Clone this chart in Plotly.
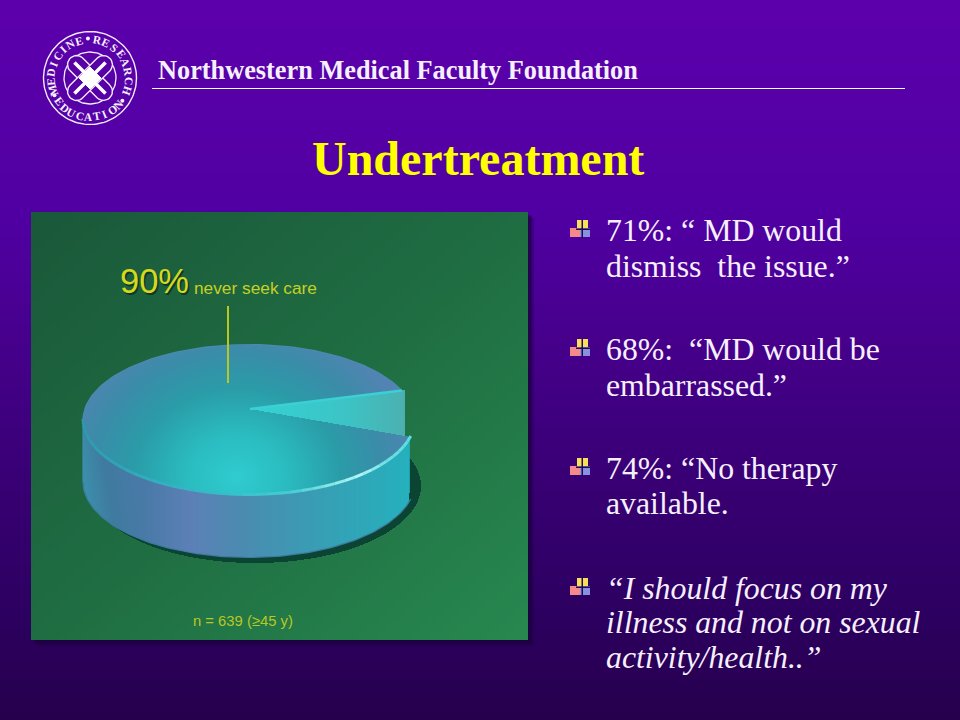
import numpy as np
import plotly.graph_objects as go

# ---------- chart data ----------
slice_labels = ["never seek care", "seek care"]
slice_shares = [90, 10]
sample_note = "n = 639 (≥45 y)"
header_text = "Northwestern Medical Faculty Foundation"
title_text = "Undertreatment"
bullet_groups = [
    ["71%: “ MD would", "dismiss  the issue.”"],
    ["68%:  “MD would be", "embarrassed.”"],
    ["74%: “No therapy", "available."],
    ["“I should focus on my", "illness and not on sexual", "activity/health..”"],
]
bullet_line_y = [[230, 266], [349, 385], [468, 503], [588, 622, 657]]
bullet_italic = [False, False, False, True]
logo_top_a = "MEDICINE"
logo_top_b = "RESEARCH"
logo_bottom = "EDUCATION"

# ---------- page helpers ----------
fig = go.Figure()
hm = dict(showscale=False, hoverinfo="skip")


def hex_scale(stops, zmax=1.0):
    return [[s / zmax, c] for s, c in stops]


# slide background
ys = np.arange(0.5, 720.5, 4)
bg_stops = [(0, "#5c00ac"), (0.3, "#5000a2"), (0.5, "#440088"), (0.7, "#360070"),
            (0.85, "#2c0060"), (1, "#26004c")]
fig.add_heatmap(z=(ys / 720).reshape(-1, 1), x0=480, dx=960, y0=2, dy=4, zmin=0, zmax=1,
                colorscale=hex_scale(bg_stops), **hm)

# panel drop shadow
for off, op in [(6, 0.25), (4, 0.35), (3, 0.4)]:
    fig.add_heatmap(z=[[1]], x0=(31 + 528) / 2 + off, dx=497, y0=(212 + 640) / 2 + off, dy=428,
                    zmin=0, zmax=1, colorscale=[[0, "#180038"], [1, "#180038"]], opacity=op, **hm)

# panel
PX0, PX1, PY0, PY1 = 31, 528, 212, 640
nx, ny = 124, 107
dxp, dyp = (PX1 - PX0) / nx, (PY1 - PY0) / ny
pxc = PX0 + dxp * (np.arange(nx) + 0.5)
pyc = PY0 + dyp * (np.arange(ny) + 0.5)
PXG, PYG = np.meshgrid(pxc, pyc)
fig.add_heatmap(z=((PXG - PX0) / (PX1 - PX0) * 0.5 + (PYG - PY0) / (PY1 - PY0) * 0.5),
                x0=pxc[0], dx=dxp, y0=pyc[0], dy=dyp, zmin=0, zmax=1,
                colorscale=[[0, "#1a583a"], [0.5, "#1f6d42"], [1, "#27884f"]], **hm)

# ---------- pie geometry, derived from the shares ----------
cx, cy, rx, ry, depth = 249.0, 420.0, 166.0, 75.5, 62.0
apex = (250.0, 409.0)
t0 = np.deg2rad(-23.0)
t1 = t0 + 2 * np.pi * slice_shares[1] / sum(slice_shares)
cut_x = 405.0


def rim(t):
    return cx + rx * np.cos(t), cy + ry * np.sin(t)


p0 = rim(t0)
p1 = rim(t1)
side_end = p1[0] - 1.5

gx = np.arange(78, 430)
gy = np.arange(338, 572)
X, Y = np.meshgrid(gx + 0.5, gy + 0.5)
U, V = (X - cx) / rx, (Y - cy) / ry

# ground shadow
shadow_in = ((X - (cx + 6)) / 166) ** 2 + ((Y - 486) / 77) ** 2 <= 1
fig.add_heatmap(z=np.where(shadow_in, 1.0, np.nan), x0=gx[0] + 0.5, dx=1, y0=gy[0] + 0.5, dy=1,
                zmin=0, zmax=1, colorscale=[[0, "#0c4433"], [1, "#0c4433"]], **hm)

# side wall
yt = cy + ry * np.sqrt(np.clip(1 - U ** 2, 0, 1))
side_in = (np.abs(U) <= 1) & (Y >= cy) & (Y >= yt - 1) & (Y <= yt + depth) & (X <= side_end)
side_z = (X - 83) / 326 + 0.035 * (yt + depth / 2 - Y) / depth * (X < 140)
side_stops = [(0, "#3c8dab"), (0.08, "#3f7a9f"), (0.2, "#4a7aa8"), (0.33, "#5c80b6"),
              (0.5, "#4a8cb0"), (0.75, "#36a0b5"), (1, "#25b0bd")]
fig.add_heatmap(z=np.where(side_in, side_z, np.nan), x0=gx[0] + 0.5, dx=1, y0=gy[0] + 0.5, dy=1,
                zmin=0, zmax=1, colorscale=hex_scale(side_stops), **hm)


# top face without the missing slice
def above_line(px, py, q, x, y):
    return y < py + (q[1] - py) * (x - px) / (q[0] - px)


in_ellipse = U ** 2 + V ** 2 <= 1
in_gap = (X > apex[0]) & ~above_line(*apex, p0, X, Y) & above_line(*apex, p1, X, Y)
top_in = in_ellipse & ~in_gap
top_d = np.sqrt(((X - 237) / 172) ** 2 + ((Y - 477) / 148) ** 2)
top_stops = [(0, "#2fcccf"), (0.3, "#2abbbf"), (0.6, "#2a9ca8"), (0.85, "#3a8ca8"), (1.15, "#5c80b6")]
fig.add_heatmap(z=np.where(top_in, top_d, np.nan), x0=gx[0] + 0.5, dx=1, y0=gy[0] + 0.5, dy=1,
                zmin=0, zmax=1.15, colorscale=hex_scale(top_stops, 1.15), name=slice_labels[0], **hm)

# wall of the missing slice
wall_in = in_gap & (X <= cut_x)
fig.add_heatmap(z=np.where(wall_in, (X - apex[0]) / (cut_x - apex[0]), np.nan),
                x0=gx[0] + 0.5, dx=1, y0=gy[0] + 0.5, dy=1, zmin=0, zmax=1,
                colorscale=[[0, "#34d2d4"], [0.6, "#3cc4c6"], [1, "#4cb0b0"]], name=slice_labels[1], **hm)


def line(x, y, color, width, **kw):
    fig.add_scatter(x=x, y=y, mode="lines", line=dict(color=color, width=width), hoverinfo="skip",
                    showlegend=False, **kw)


def arc(a, b, n=80):
    t = np.linspace(a, b, n)
    return cx + rx * np.cos(t), cy + ry * np.sin(t)


# silhouette edges
d = np.deg2rad
xb, yb = arc(t0, d(-180))
line(xb, yb, "#4a8ab0", 1.2)
tb = np.linspace(d(180), t1, 120)
line(cx + rx * np.cos(tb), cy + ry * np.sin(tb) + depth, "#3d7aa0", 1.2)
line([cx - rx, cx - rx], [cy, cy + depth], "#3c8dab", 1.2)
line([side_end, side_end], [p1[1], p1[1] + depth - 6], "#25b0bd", 1.2)

# front rim highlight, a smooth colour ramp along the rim
ramp_deg = np.array([180, 140, 100, 75, 60, 48, 35, 13], float)
ramp_rgb = np.array([[47, 150, 172], [50, 165, 185], [54, 190, 200], [70, 205, 212],
                     [140, 232, 234], [180, 246, 246], [110, 225, 228], [90, 222, 226]], float)
steps = np.linspace(180, 13, 41)
for a, b in zip(steps[:-1], steps[1:]):
    mid = (a + b) / 2
    col = [np.interp(-mid, -ramp_deg, ramp_rgb[:, k]) for k in range(3)]
    xr, yr = arc(d(a), d(b), 8)
    line(xr, yr - 1, "rgb(%d,%d,%d)" % tuple(col), 3)

# slice edge highlight
line([apex[0], p0[0]], [apex[1], p0[1]], "#3bd0d4", 2.5)
line([p0[0] + 2, p0[0] + 2], [p0[1], 431], "#4cb0b0", 1)

# callout line
line([228, 228], [306, 383], "#b8c820", 2)

# ---------- logo ----------
LX, LY = 90, 78
c = np.linspace(0, 2 * np.pi, 120)
line(LX + 46.5 * np.cos(c), LY + 46.5 * np.sin(c), "#f4ecfb", 1.4)
line(LX + 26 * np.cos(c), LY + 26 * np.sin(c), "#f4ecfb", 1.3)
cap = np.linspace(-np.pi / 2, np.pi / 2, 16)
sx = np.r_[19 + 9 * np.cos(cap), -19 - 9 * np.cos(cap), 19 + 9 * np.cos(cap[0])]
sy = np.r_[9 * np.sin(cap), -9 * np.sin(cap), 9 * np.sin(cap[0])]
for ang in (45, -45):
    a = np.deg2rad(ang)
    fig.add_scatter(x=LX + sx * np.cos(a) - sy * np.sin(a), y=LY + sx * np.sin(a) + sy * np.cos(a),
                    mode="lines", fill="toself", fillcolor="#5600a6",
                    line=dict(color="#f4ecfb", width=1.4), hoverinfo="skip", showlegend=False)
for ang in (45, -45):
    a = np.deg2rad(ang)
    line([LX - 22 * np.cos(a), LX + 22 * np.cos(a)], [LY - 22 * np.sin(a), LY + 22 * np.sin(a)], "#ffffff", 3.5)
fig.add_scatter(x=[LX - 11, LX, LX + 11, LX, LX - 11], y=[LY, LY - 11, LY, LY + 11, LY], mode="lines",
                fill="toself", fillcolor="#ffffff", line=dict(color="#ffffff", width=1),
                hoverinfo="skip", showlegend=False)

notes = []


def note(x, y, text, size, color, family="Liberation Serif", bold=False, italic=False, anchor="left",
         angle=0, shadow=None):
    font = dict(size=size, color=color, family=family, style="italic" if italic else "normal")
    if shadow:
        font["shadow"] = shadow
    notes.append(dict(x=x, y=y, xref="x", yref="y", text=("<b>%s</b>" % text) if bold else text,
                      showarrow=False, xanchor=anchor, yanchor="middle", textangle=angle, borderpad=0,
                      font=font))


def ring_text(txt, start, step, r=39, flip=False):
    for i, ch in enumerate(txt):
        th = start + step * i
        a = np.deg2rad(th)
        note(LX + r * np.sin(a), LY - r * np.cos(a), ch, 11.5, "#f6f0fc", bold=True, anchor="center",
             angle=(th - 180) if flip else th)


ring_text(logo_top_a, -108, 13.1)
ring_text(logo_top_b, 11, 13.9)
ring_text(logo_bottom, 233, -12.6, flip=True)
dot_angles = [-3, 125, 244]
fig.add_scatter(x=[LX + 39.5 * np.sin(np.deg2rad(v)) for v in dot_angles],
                y=[LY - 39.5 * np.cos(np.deg2rad(v)) for v in dot_angles], mode="markers",
                marker=dict(color="#f6f0fc", size=4), hoverinfo="skip", showlegend=False)

# ---------- texts ----------
note(157, 70, header_text, 26.3, "#f6f0fc", bold=True)
note(478, 158, title_text, 48, "#ffff00", bold=True, anchor="center")
for lines_, ys_, it in zip(bullet_groups, bullet_line_y, bullet_italic):
    for s, y in zip(lines_, ys_):
        note(605, y, s, 31.8, "#f6f0fc", italic=it)

share_text = "%d%%" % slice_shares[0]
note(119, 281, share_text, 34.5, "#d6d820", family="Liberation Sans", shadow="1.5px 1.5px 0 #0e3a22")
note(193, 288, slice_labels[0], 17.3, "#c4d024", family="Liberation Sans")
note(192, 621, sample_note, 14.8, "#b8c824", family="Liberation Sans")

# ---------- bullets ----------
shapes = []


def rect(x0, y0, x1, y1, color):
    shapes.append(dict(type="rect", xref="x", yref="y", x0=x0, y0=y0, x1=x1, y1=y1,
                       fillcolor=color, line=dict(width=0), layer="above"))


for ys_ in bullet_line_y:
    by = ys_[0] - 1
    rect(577, by - 9, 588, by, "#f6df5a")
    rect(570, by - 1, 580, by + 8, "#f48a8a")
    rect(580, by - 1, 590, by + 8, "#8a90e0")
    rect(581.5, by - 9, 583, by + 9, "#1c0a50")
    rect(576, by - 0.5, 590, by + 1, "#1c0a50")

# header rule
line([152, 905], [88.5, 88.5], "#ffffff", 1)

fig.update_layout(
    width=960, height=720, margin=dict(l=0, r=0, t=0, b=0), showlegend=False,
    paper_bgcolor="#4a0090", plot_bgcolor="#4a0090", annotations=notes, shapes=shapes,
    xaxis=dict(range=[0, 960], visible=False, fixedrange=True),
    yaxis=dict(range=[720, 0], visible=False, fixedrange=True),
)
fig.write_html("out.html", config=dict(displayModeBar=False),
               post_script="document.body.style.margin='0';document.body.style.overflow='hidden';")
